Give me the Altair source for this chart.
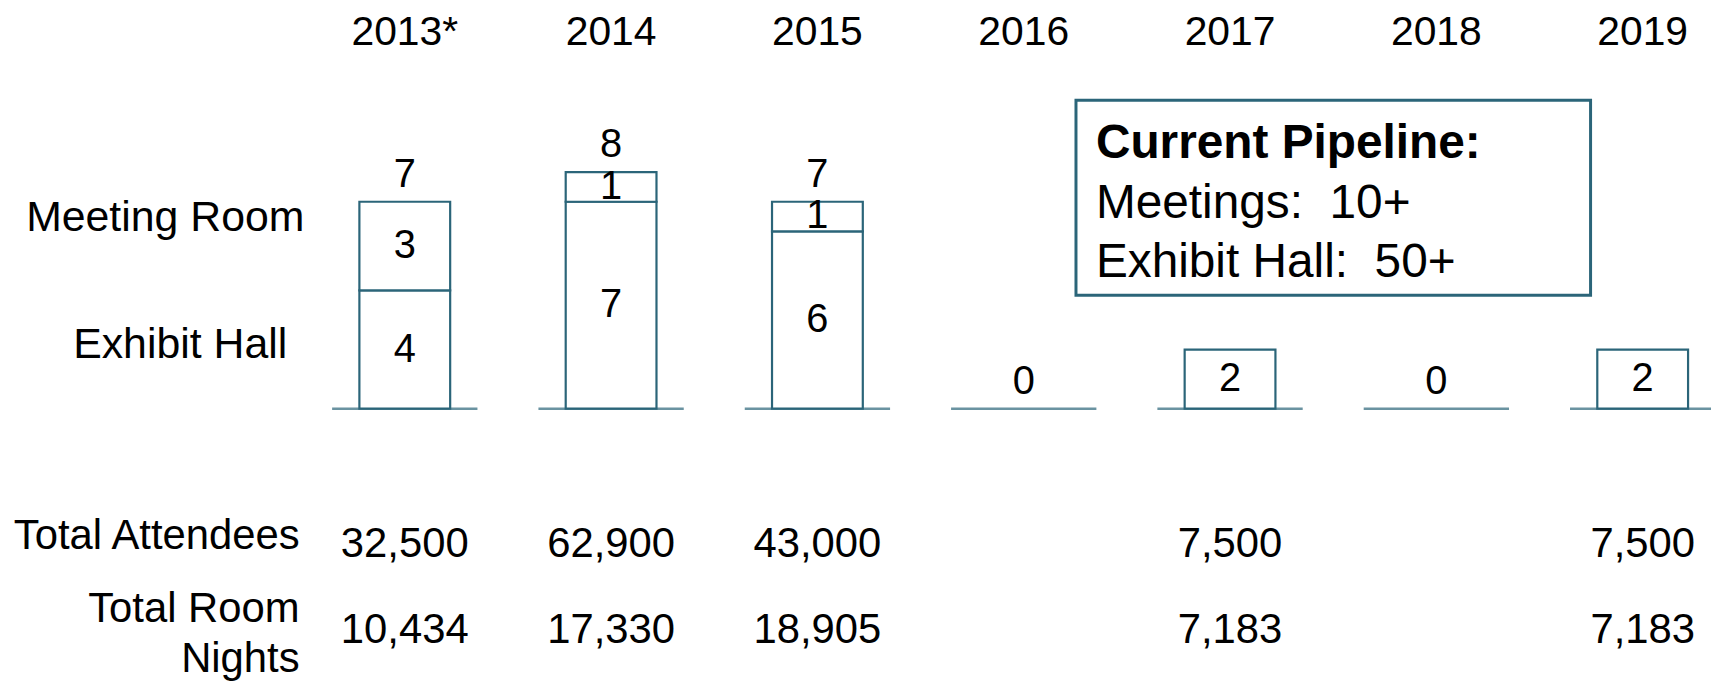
import altair as alt
import pandas as pd

# ---- data ----
years = ["2013*", "2014", "2015", "2016", "2017", "2018", "2019"]
exhibit_hall = [4, 7, 6, 0, 0, 0, 0]
meeting_room = [3, 1, 1, 0, 2, 0, 2]
attendees = [32500, 62900, 43000, None, 7500, None, 7500]
room_nights = [10434, 17330, 18905, None, 7183, None, 7183]
pipeline_lines = ["Current Pipeline:", "Meetings:\u00a0\u00a010+", "Exhibit Hall:\u00a0\u00a050+"]

TEAL = "#2B6579"
FONT = "Liberation Sans"

# ---- tables built from the arrays ----
seg_rows = []
for y, eh, mr in zip(years, exhibit_hall, meeting_room):
    start = 0
    for cat, v in (("Exhibit Hall", eh), ("Meeting Room", mr)):
        if v > 0:
            seg_rows.append({"year": y, "category": cat, "start": start,
                             "end": start + v, "mid": start + v / 2, "value": v})
        start += v
segments = pd.DataFrame(seg_rows)

tot_rows = []
for y, eh, mr in zip(years, exhibit_hall, meeting_room):
    total = eh + mr
    nseg = (eh > 0) + (mr > 0)
    if total == 0 or nseg > 1:
        tot_rows.append({"year": y, "total": total})
totals = pd.DataFrame(tot_rows)

base = pd.DataFrame({"year": years, "zero": [0] * len(years)})
att = pd.DataFrame({"year": years, "v": attendees}).dropna()
rn = pd.DataFrame({"year": years, "v": room_nights}).dropna()

x_scale = alt.Scale(domain=years, range=[295, 1746], paddingInner=0.56, paddingOuter=0.28)
y_scale = alt.Scale(domain=[0, 10], range=[401, 104], nice=False, zero=False)
X = alt.X("year:N", scale=x_scale, axis=None, sort=years)

baselines = alt.Chart(base).mark_tick(orient="horizontal", size=146, thickness=2.5, color=TEAL).encode(
    x=X, y=alt.Y("zero:Q", scale=y_scale, axis=None)
)

bars = alt.Chart(segments).mark_bar(fill="white", stroke=TEAL, strokeWidth=2.2).encode(
    x=X,
    y=alt.Y("start:Q", scale=y_scale, axis=None),
    y2="end:Q",
)

seg_text = alt.Chart(segments).mark_text(font=FONT, fontSize=40, color="black", baseline="middle").encode(
    x=X, y=alt.Y("mid:Q", scale=y_scale, axis=None), text="value:Q"
)

tot_text = alt.Chart(totals).mark_text(font=FONT, fontSize=40, color="black", baseline="middle", dy=-27).encode(
    x=X, y=alt.Y("total:Q", scale=y_scale, axis=None), text="total:Q"
)

year_text = alt.Chart(base).mark_text(font=FONT, fontSize=41, color="black", baseline="middle").encode(
    x=X, y=alt.value(24), text="year:N"
)

att_text = alt.Chart(att).mark_text(font=FONT, fontSize=42, color="black", baseline="middle").encode(
    x=X, y=alt.value(537), text=alt.Text("v:Q", format=",")
)
rn_text = alt.Chart(rn).mark_text(font=FONT, fontSize=42, color="black", baseline="middle").encode(
    x=X, y=alt.value(623), text=alt.Text("v:Q", format=",")
)


def label(txt, x, y, align="center", size=42, weight="normal", baseline="middle"):
    return alt.Chart(pd.DataFrame({"t": [txt]})).mark_text(
        font=FONT, fontSize=size, fontWeight=weight, color="black", align=align, baseline=baseline
    ).encode(text="t:N", x=alt.value(x), y=alt.value(y))


row_labels = [
    label("Meeting Room", 158, 209, size=43),
    label("Exhibit Hall", 173, 337, size=43),
    label("Total Attendees", 293, 529, align="right"),
    label("Total Room", 293, 602, align="right"),
    label("Nights", 293, 653, align="right"),
]

box = alt.Chart(pd.DataFrame({"a": [0]})).mark_rect(fill="white", stroke=TEAL, strokeWidth=3).encode(
    x=alt.value(1073), x2=alt.value(1590), y=alt.value(91), y2=alt.value(287)
)
box_text = [
    label(pipeline_lines[0], 1093, 149, align="left", size=48, weight="bold", baseline="alphabetic"),
    label(pipeline_lines[1], 1093, 209, align="left", size=48, baseline="alphabetic"),
    label(pipeline_lines[2], 1093, 269, align="left", size=48, baseline="alphabetic"),
]

chart = alt.layer(
    baselines, bars, seg_text, tot_text, year_text, att_text, rn_text, *row_labels, box, *box_text
).properties(
    width=1703, height=666,
    autosize=alt.AutoSizeParams(type="none"),
    padding={"left": 0, "top": 0, "right": 8, "bottom": 8},
).configure_view(stroke=None)

chart.save("out.html", embed_options={"renderer": "svg", "actions": False})
